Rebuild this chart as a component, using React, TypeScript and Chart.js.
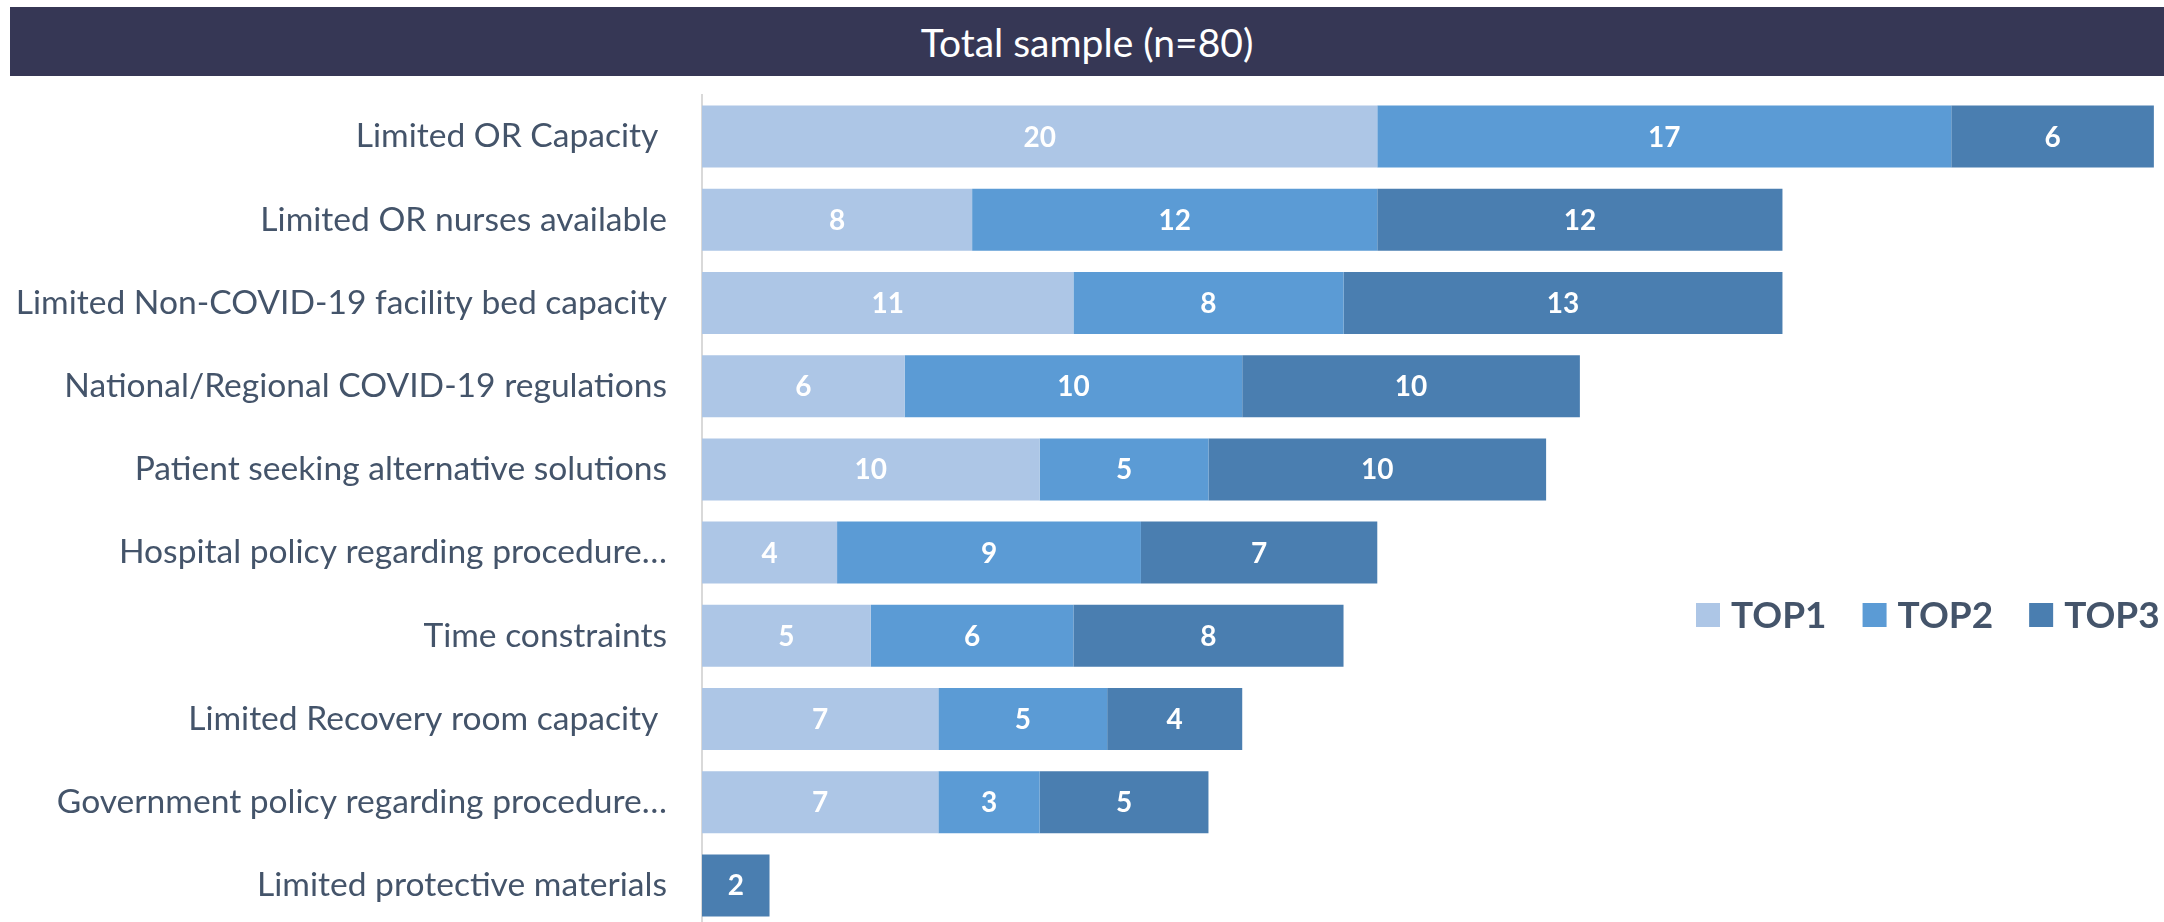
import { useEffect, useRef } from "react";
import { Chart, registerables } from "chart.js";

Chart.register(...registerables);

const chartTitle = "Total sample (n=80)";

const categories = [
  "Limited OR Capacity ",
  "Limited OR nurses available",
  "Limited Non-COVID-19 facility bed capacity",
  "National/Regional COVID-19 regulations",
  "Patient seeking alternative solutions",
  "Hospital policy regarding procedure…",
  "Time constraints",
  "Limited Recovery room capacity ",
  "Government policy regarding procedure…",
  "Limited protective materials",
];

const seriesNames = ["TOP1", "TOP2", "TOP3"];
const top1Values = [20, 8, 11, 6, 10, 4, 5, 7, 7, null];
const top2Values = [17, 12, 8, 10, 5, 9, 6, 5, 3, null];
const top3Values = [6, 12, 13, 10, 10, 7, 8, 4, 5, 2];

const seriesColors = ["#adc6e6", "#5b9bd5", "#4a7eb0"];

const FONT = "Lato, 'Open Sans', sans-serif";
const TEXT_COLOR = "#44546a";

const valueLabelPlugin = {
  id: "valueLabels",
  afterDatasetsDraw(chart: any) {
    const ctx = chart.ctx;
    ctx.save();
    ctx.fillStyle = "#ffffff";
    ctx.font = `bold 28px ${FONT}`;
    ctx.textAlign = "center";
    ctx.textBaseline = "middle";
    chart.data.datasets.forEach((ds: any, di: number) => {
      const meta = chart.getDatasetMeta(di);
      meta.data.forEach((el: any, i: number) => {
        const v = ds.data[i];
        if (v === null || v === undefined || v === 0) return;
        const p = el.getProps(["x", "y", "base"], true);
        ctx.fillText(String(v), (p.x + p.base) / 2, p.y + 1);
      });
    });
    ctx.restore();
  },
};

const sideLegendPlugin = {
  id: "sideLegend",
  afterDraw(chart: any) {
    const ctx = chart.ctx;
    const startX = 1696;
    const centerY = 535;
    const box = 24;
    const textGap = 11;
    const itemGap = 36;
    ctx.save();
    ctx.font = `bold 37px ${FONT}`;
    ctx.textBaseline = "middle";
    ctx.textAlign = "left";
    let x = startX;
    chart.data.datasets.forEach((ds: any) => {
      ctx.fillStyle = ds.backgroundColor;
      ctx.fillRect(x, centerY - box / 2, box, box);
      x += box + textGap;
      ctx.fillStyle = TEXT_COLOR;
      ctx.fillText(ds.label, x, centerY + 1);
      x += ctx.measureText(ds.label).width + itemGap;
    });
    ctx.restore();
  },
};

export default function App() {
  const canvasRef = useRef<HTMLCanvasElement | null>(null);

  useEffect(() => {
    if (!canvasRef.current) return;
    const valueSets = [top1Values, top2Values, top3Values];
    const chart = new Chart(canvasRef.current, {
      type: "bar",
      data: {
        labels: categories,
        datasets: seriesNames.map((name, i) => ({
          label: name,
          data: valueSets[i] as any,
          backgroundColor: seriesColors[i],
          borderWidth: 0,
          categoryPercentage: 1,
          barPercentage: 0.745,
        })),
      },
      options: {
        indexAxis: "y",
        animation: false,
        responsive: true,
        maintainAspectRatio: false,
        devicePixelRatio: 1,
        layout: { padding: { top: 15, bottom: 15, left: 0, right: 0 } },
        plugins: {
          legend: { display: false },
          tooltip: { enabled: false },
          title: { display: false },
        },
        scales: {
          x: {
            stacked: true,
            display: false,
            min: 0,
            max: 43.3,
          },
          y: {
            stacked: true,
            afterFit: (scale: any) => {
              scale.width = 702;
              scale.paddingTop = 0;
              scale.paddingBottom = 0;
            },
            grid: { display: false, drawTicks: false },
            border: { display: true, color: "#d9d9d9", width: 2 },
            ticks: {
              padding: 35,
              color: TEXT_COLOR,
              font: { family: FONT, size: 33.6 },
              autoSkip: false,
            },
          },
        },
      },
      plugins: [valueLabelPlugin, sideLegendPlugin],
    });
    return () => chart.destroy();
  }, []);

  return (
    <div
      style={{
        position: "fixed",
        left: 0,
        top: 0,
        width: 2164,
        height: 922,
        overflow: "hidden",
        background: "#ffffff",
        fontFamily: FONT,
      }}
    >
      <div
        style={{
          position: "absolute",
          left: 10,
          top: 7,
          width: 2154,
          height: 69,
          background: "#363755",
          color: "#ffffff",
          fontSize: 39,
          display: "flex",
          alignItems: "center",
          justifyContent: "center",
        }}
      >
        {chartTitle}
      </div>
      <div
        style={{
          position: "absolute",
          left: 0,
          top: 80,
          width: 2164,
          height: 862,
        }}
      >
        <canvas ref={canvasRef} />
      </div>
    </div>
  );
}
